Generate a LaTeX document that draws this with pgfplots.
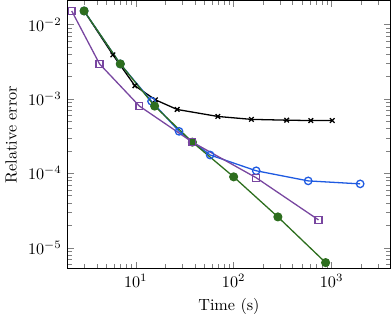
\documentclass[border=0pt]{standalone}
\usepackage{pgfplots}
\pgfplotsset{compat=1.18}
\definecolor{cblue}{RGB}{30,90,225}
\definecolor{cgreen}{RGB}{45,110,30}
\definecolor{cpurple}{RGB}{120,70,160}
\begin{document}
\begin{tikzpicture}
\begin{loglogaxis}[
  scale only axis,
  width=200pt, height=166pt,
  xmin=2, xmax=4000,
  ymin=5.2e-6, ymax=0.021,
  xlabel={Time (s)},
  ylabel={Relative error},
  axis line style={semithick},
  every axis plot/.append style={thick},
]
% black: stalls around 5e-4
\addplot[black, mark=x, mark size=2pt] coordinates {
(2.97,0.0152) (5.85,0.0039) (9.8,0.0015) (15.9,0.00097) (26.5,0.00072)
(69,0.00058) (152,0.00053) (348,0.000517) (614,0.000511) (1016,0.000511)
};
\addplot[cblue, mark=o, mark size=2.3pt] coordinates {
(2.97,0.0152) (6.96,0.00295) (14.5,0.00093) (27.7,0.000366) (57.5,0.000176)
(170,0.000108) (577,7.9e-5) (1960,7.2e-5)
};
\addplot[cgreen, mark=*, mark size=2.4pt] coordinates {
(2.97,0.0152) (6.96,0.00295) (15.6,0.0008) (37.9,0.000262) (100,8.95e-5)
(283,2.59e-5) (869,6.3e-6)
};
\addplot[cpurple, mark=square, mark size=2.1pt] coordinates {
(2.22,0.0152) (4.27,0.00295) (10.9,0.0008) (37.9,0.000262) (170,8.7e-5)
(736,2.36e-5)
};
\end{loglogaxis}
\end{tikzpicture}
\end{document}
